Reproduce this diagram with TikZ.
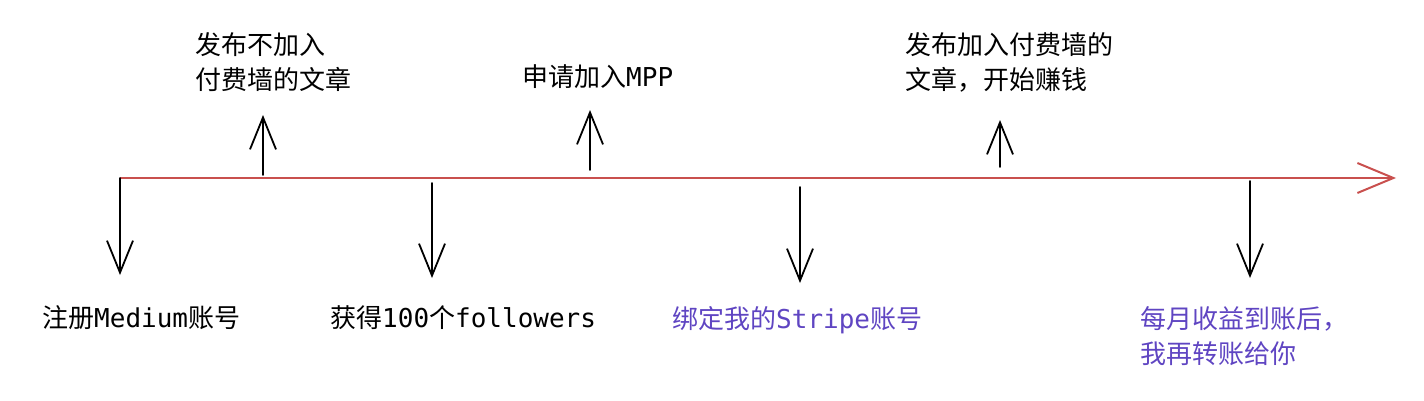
\documentclass[tikz,border=0pt]{standalone}
\usepackage{fontspec}
\setmainfont{Noto Sans CJK SC}
\setmonofont{DejaVu Sans Mono}
\usetikzlibrary{arrows.meta}
\definecolor{lineRed}{HTML}{C9504E}
\definecolor{stepBlue}{HTML}{5F45C2}
\newcommand{\mono}[1]{{\ttfamily #1}}

\begin{document}
\begin{tikzpicture}[x=1pt, y=-1pt, >={Straight Barb[length=32pt, width=26pt]},
    lbl/.style={anchor=west, inner sep=0pt, align=left, font=\fontsize{26}{35}\selectfont},
    tick/.style={->, line width=1.8pt, line cap=round}]
                \useasboundingbox (0,0) rectangle (1424,400);
                % timeline
                \coordinate (start) at (120,178);
                \coordinate (end) at (1396,178);
                \draw[lineRed, line width=2pt, -{Straight Barb[length=36pt, width=30pt]}] (start) -- (end);
                % steps below the line
                \coordinate (d1) at (120,178);  \coordinate (d1t) at (120,275);
                \coordinate (d2) at (432,183);  \coordinate (d2t) at (432,278);
                \coordinate (d3) at (800,187);  \coordinate (d3t) at (800,283);
                \coordinate (d4) at (1250,181); \coordinate (d4t) at (1250,278);
                \draw[tick] (d1) -- (d1t);
                \draw[tick] (d2) -- (d2t);
                \draw[tick] (d3) -- (d3t);
                \draw[tick] (d4) -- (d4t);
                % steps above the line
                \coordinate (u1) at (263,175);  \coordinate (u1t) at (263,115);
                \coordinate (u2) at (590,170);  \coordinate (u2t) at (590,110);
                \coordinate (u3) at (1000,167); \coordinate (u3t) at (1000,120);
                \draw[tick] (u1) -- (u1t);
                \draw[tick] (u2) -- (u2t);
                \draw[tick] (u3) -- (u3t);
                % labels
                \node[lbl] (register) at (42,318) {注册\mono{Medium}账号};
                \node[lbl] (followers) at (330,318) {获得\mono{100}个\mono{followers}};
                \node[lbl, text=stepBlue] (stripe) at (672,320) {绑定我的\mono{Stripe}账号};
                \node[lbl, text=stepBlue] (payout) at (1140,336) {每月收益到账后，\\我再转账给你};
                \node[lbl] (free) at (195,62) {发布不加入\\付费墙的文章};
                \node[lbl] (mpp) at (522,77) {申请加入\mono{MPP}};
                \node[lbl] (paid) at (905,62) {发布加入付费墙的\\文章，开始赚钱};
            \end{tikzpicture}
\end{document}
